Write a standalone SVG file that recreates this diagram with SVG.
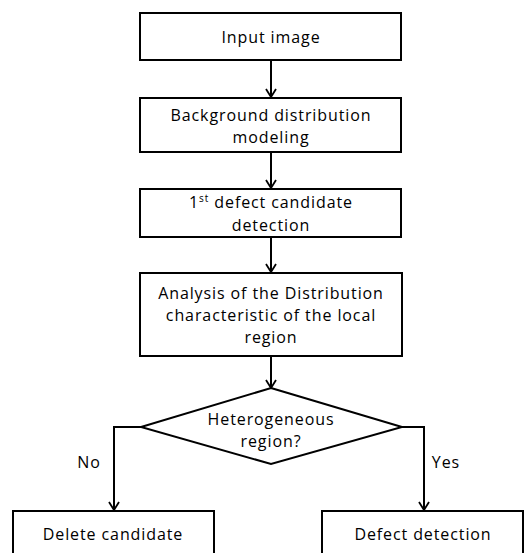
<svg xmlns="http://www.w3.org/2000/svg" width="529" height="553" viewBox="0 0 529 553">
<style>
.box{fill:#fff;stroke:#000;stroke-width:2}
.t{font-family:"Open Sans","Noto Sans",sans-serif;font-size:16px;letter-spacing:0.9px;fill:#000;text-anchor:middle}
.c{fill:none;stroke:#000;stroke-width:2}
</style>
<defs>
<marker id="ah" viewBox="0 0 12 12" refX="11" refY="6" markerWidth="12" markerHeight="12" markerUnits="userSpaceOnUse" orient="auto">
<polyline points="3,1 11,6 3,11" fill="none" stroke="#000" stroke-width="1.8"/>
</marker>
</defs>
<rect width="529" height="553" fill="#fff"/>
<g id="connectors">
<line class="c" x1="271" y1="60" x2="271" y2="97" marker-end="url(#ah)"/>
<line class="c" x1="271" y1="152" x2="271" y2="188" marker-end="url(#ah)"/>
<line class="c" x1="271" y1="237" x2="271" y2="272" marker-end="url(#ah)"/>
<line class="c" x1="271" y1="356" x2="271" y2="388" marker-end="url(#ah)"/>
<polyline class="c" points="141,427 114,427 114,510" marker-end="url(#ah)"/>
<polyline class="c" points="402,427 424,427 424,510" marker-end="url(#ah)"/>
<text class="t" x="89" y="468">No</text>
<text class="t" x="446" y="468">Yes</text>
</g>
<g id="n1"><rect class="box" x="140" y="13" width="261" height="47"/><text class="t" x="271" y="43">Input image</text></g>
<g id="n2"><rect class="box" x="140" y="98" width="261" height="54"/><text class="t" x="271" y="121">Background distribution</text><text class="t" x="271" y="143">modeling</text></g>
<g id="n3"><rect class="box" x="140" y="189" width="261" height="48"/><text class="t" x="271" y="208">1<tspan font-size="10" dy="-6">st</tspan><tspan dy="6"> defect candidate</tspan></text><text class="t" x="271" y="231">detection</text></g>
<g id="n4"><rect class="box" x="140" y="273" width="262" height="83"/><text class="t" x="271" y="299">Analysis of the Distribution</text><text class="t" x="271" y="321">characteristic of the local</text><text class="t" x="271" y="343">region</text></g>
<g id="n5"><polygon class="box" points="271,388 402,427 271,464 141,427"/><text class="t" x="271" y="425">Heterogeneous</text><text class="t" x="271" y="447">region?</text></g>
<g id="n6"><rect class="box" x="13" y="511" width="201" height="60"/><text class="t" x="113" y="540">Delete candidate</text></g>
<g id="n7"><rect class="box" x="322" y="511" width="201" height="60"/><text class="t" x="423" y="540">Defect detection</text></g>
</svg>
